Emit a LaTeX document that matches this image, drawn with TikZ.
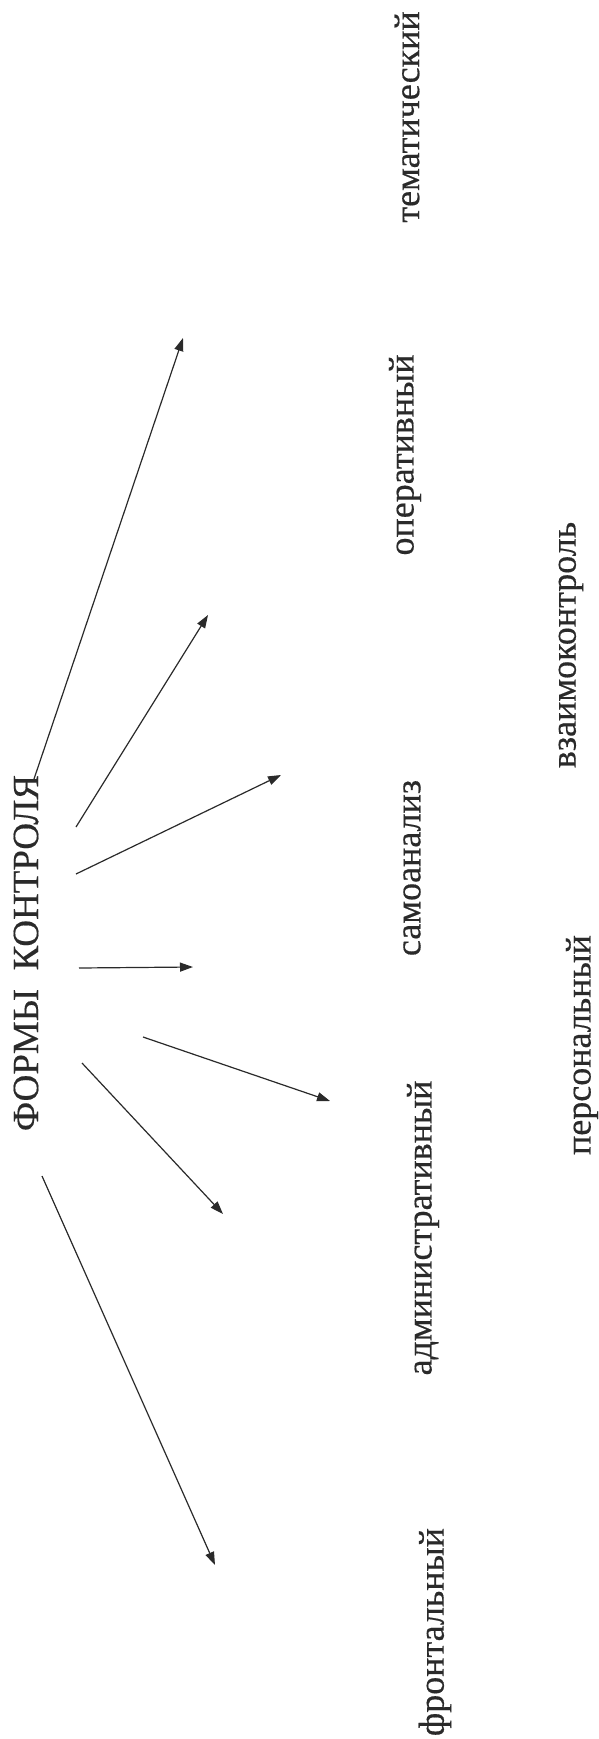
\documentclass[tikz,border=0pt]{standalone}
\usepackage{fontspec}
\setmainfont{Liberation Serif}[FakeBold=0.4]
\usetikzlibrary{arrows.meta}
\definecolor{ink}{HTML}{2A2A2A}
\begin{document}
\begin{tikzpicture}[x=1pt,y=-1pt,
  lbl/.style={rotate=90,inner sep=0pt,text=ink,font=\fontsize{36}{40}\selectfont},
  ttl/.style={rotate=90,inner sep=0pt,text=ink,font=\fontsize{37}{40}\selectfont},
  arr/.style={draw=ink,line width=1.2pt,-{Triangle[length=13pt,width=9pt]}}]
\useasboundingbox[fill=white] (0,0) rectangle (598,1739);
\node[ttl] (title) at (26,953) {ФОРМЫ\ \ КОНТРОЛЯ};
\node[lbl] (tem) at (407,117) {тематический};
\node[lbl] (oper) at (405,455) {оперативный};
\node[lbl] (samo) at (412,868) {самоанализ};
\node[lbl] (adm) at (423,1228) {административный};
\node[lbl] (front) at (435,1632) {фронтальный};
\node[lbl] (vz) at (571,645) {взаимоконтроль};
\node[lbl] (pers) at (582,1045) {персональный};
% arrow start and end points
\coordinate (s1) at (34,779);  \coordinate (e1) at (183,338);
\coordinate (s2) at (76,827);  \coordinate (e2) at (208,615);
\coordinate (s3) at (76,874);  \coordinate (e3) at (281,775);
\coordinate (s4) at (79,968);  \coordinate (e4) at (193,967);
\coordinate (s5) at (143,1037); \coordinate (e5) at (330,1101);
\coordinate (s6) at (82,1063); \coordinate (e6) at (223,1214);
\coordinate (s7) at (42,1176); \coordinate (e7) at (215,1565);
\draw[arr] (s1) -- (e1);
\draw[arr] (s2) -- (e2);
\draw[arr] (s3) -- (e3);
\draw[arr] (s4) -- (e4);
\draw[arr] (s5) -- (e5);
\draw[arr] (s6) -- (e6);
\draw[arr] (s7) -- (e7);
\end{tikzpicture}
\end{document}
